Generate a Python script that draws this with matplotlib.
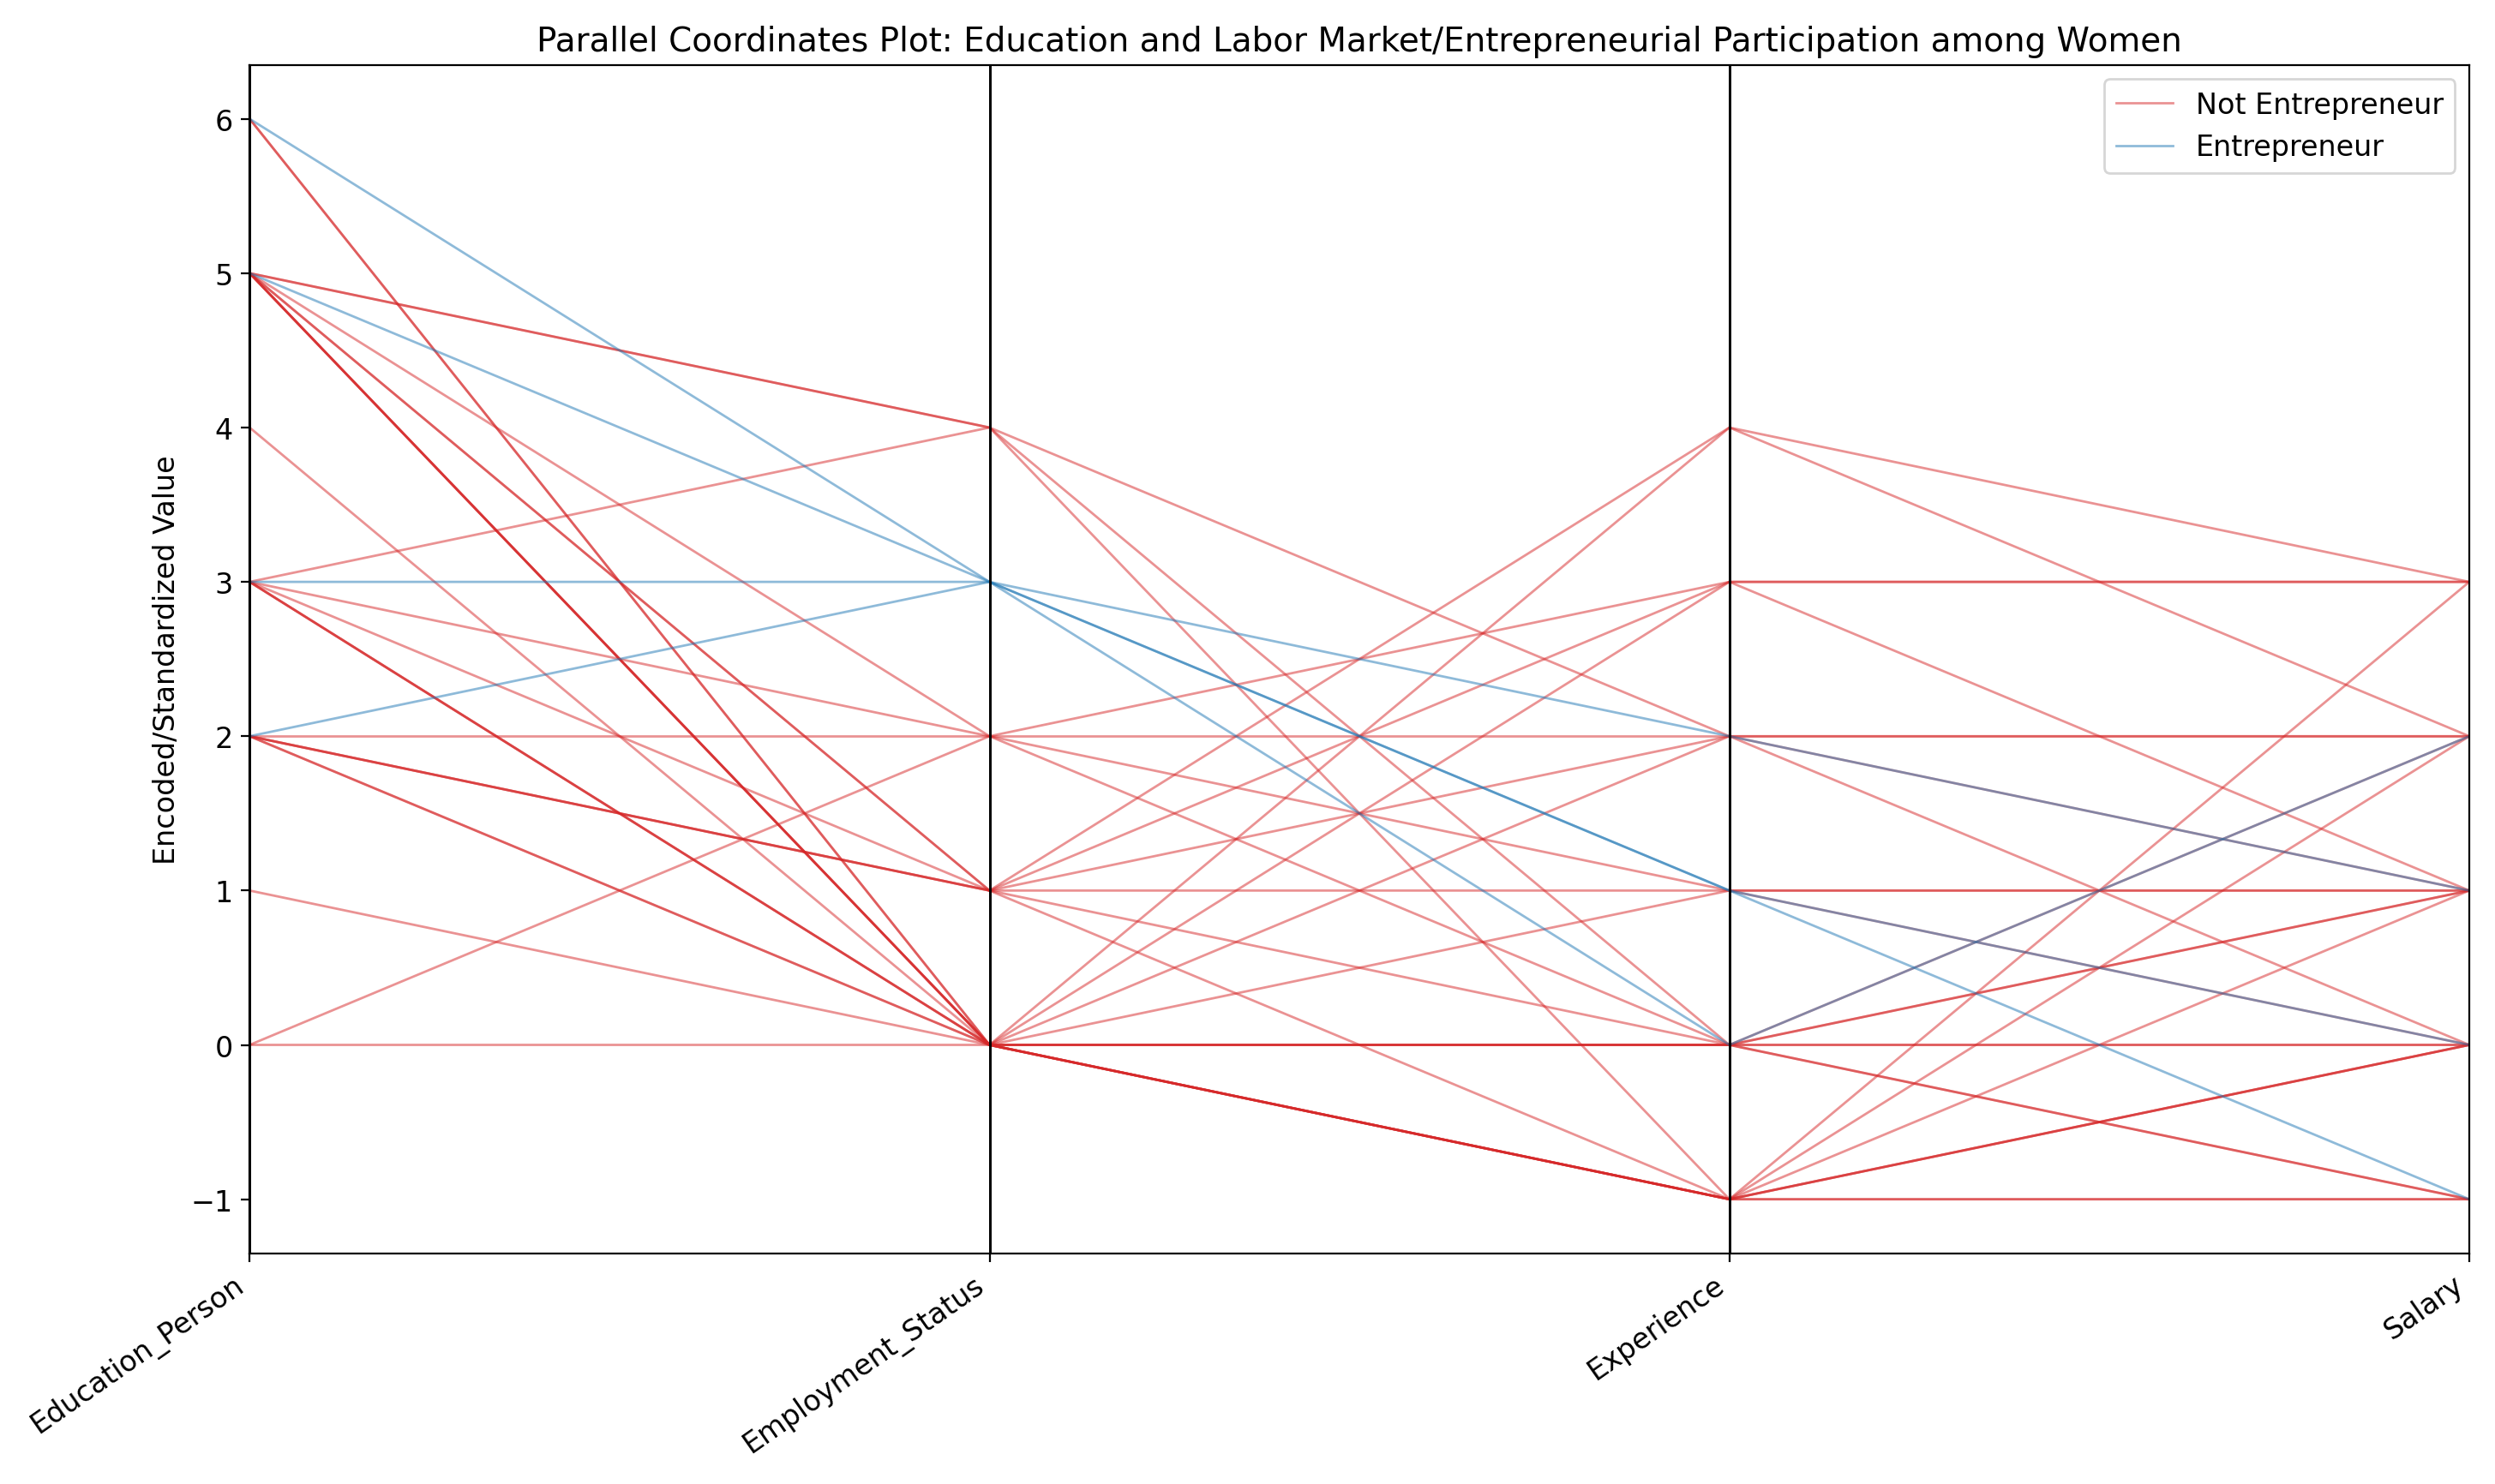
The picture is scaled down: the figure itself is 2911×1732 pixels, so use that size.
import pandas as pd
import matplotlib
matplotlib.use("Agg")
import matplotlib.pyplot as plt
from pandas.plotting import parallel_coordinates

# rows (approximate)
education = [6, 5, 5, 5, 5, 5, 4, 3, 3, 3, 3, 2, 2, 2, 2, 1, 0, 0, 5, 5, 3, 2, 5, 5, 6, 2, 3,
             6, 5, 3, 2]
employment = [0, 4, 1, 0, 0, 0, 0, 4, 1, 0, 0, 2, 1, 0, 1, 0, 2, 0, 2, 1, 2, 0, 0, 4, 0, 1, 0,
              3, 3, 3, 3]
experience = [-1, 0, 4, -1, -1, 2, -1, 2, 0, -1, 1, 2, 1, -1, 3, 0, 3, 0, 1, -1, 0, 4, 3, -1, 0, 2, 0,
              1, 2, 1, 0]
salary = [3, 1, 3, -1, 0, 1, 2, 2, -1, 1, 0, 2, 1, -1, 1, 0, 3, 1, 1, 0, 2, 2, 3, 0, -1, 0, 0,
          0, 1, -1, 2]
group = ["Not Entrepreneur"] * 27 + ["Entrepreneur"] * 4

df = pd.DataFrame({"Education_Person": education, "Employment_Status": employment,
                   "Experience": experience, "Salary": salary, "Entrepreneur": group})

fig, ax = plt.subplots(figsize=(14.555, 8.665), dpi=200)
parallel_coordinates(df, "Entrepreneur", color=["#d62728", "#1f77b4"], alpha=0.5, lw=1, ax=ax)
ax.grid(False)
for x in range(4):
    ax.axvline(x, color="black", lw=1)
ax.set_title("Parallel Coordinates Plot: Education and Labor Market/Entrepreneurial Participation among Women",
             fontsize=14)
ax.set_ylabel("Encoded/Standardized Value", fontsize=12)
plt.setp(ax.get_xticklabels(), rotation=35, ha="right", fontsize=12)
plt.setp(ax.get_yticklabels(), fontsize=12)
ax.legend(loc="upper right", fontsize=12)
fig.tight_layout()
fig.savefig("out.png", dpi=200)
